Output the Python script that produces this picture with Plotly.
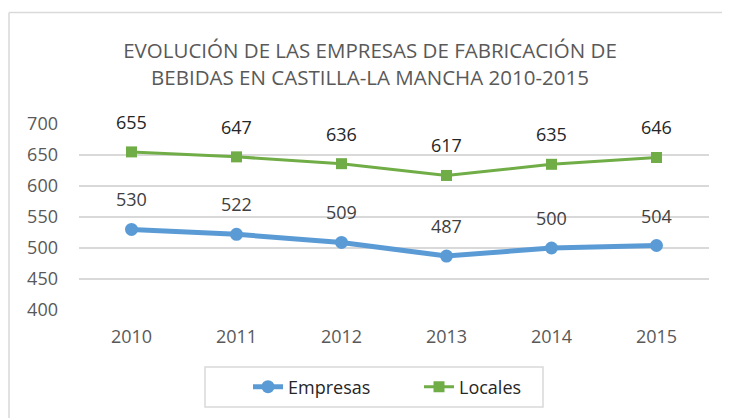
import plotly.graph_objects as go

years = ["2010", "2011", "2012", "2013", "2014", "2015"]
empresas = [530, 522, 509, 487, 500, 504]
locales = [655, 647, 636, 617, 635, 646]
y_ticks = [400, 450, 500, 550, 600, 650, 700]

FONT = "Open Sans"
GRAY = "#595959"
BLUE = "#5B9BD5"
GREEN = "#70AD47"

# page body has an 8px margin; figure is laid out in its own pixel coords
W, H = 722, 410
L, R, T, B = 71, 21, 116, 108
PW, PH = W - L - R, H - T - B


def px_x(x):
    return (x - L) / PW


def px_y(y):
    return (H - B - y) / PH


fig = go.Figure()
fig.add_trace(go.Scatter(
    x=years, y=empresas, name="Empresas", mode="lines+markers",
    line=dict(color=BLUE, width=5), marker=dict(symbol="circle", size=13, color=BLUE),
))
fig.add_trace(go.Scatter(
    x=years, y=locales, name="Locales", mode="lines+markers",
    line=dict(color=GREEN, width=3), marker=dict(symbol="square", size=11, color=GREEN),
))

for i, v in enumerate(empresas):
    fig.add_annotation(x=i, y=v, xref="x", yref="y", text=str(v), showarrow=False, yshift=30,
                       font=dict(family=FONT, size=18, color="#404040"))
for i, v in enumerate(locales):
    fig.add_annotation(x=i, y=v, xref="x", yref="y", text=str(v), showarrow=False, yshift=30,
                       font=dict(family=FONT, size=18, color="#262626"))

# outer chart border: only top and left edges are visible on the page
border = dict(color="#D9D9D9", width=1.5)
fig.add_shape(type="line", xref="paper", yref="paper",
              x0=px_x(1), x1=px_x(W), y0=px_y(4.5), y1=px_y(4.5), line=border, layer="below")
fig.add_shape(type="line", xref="paper", yref="paper",
              x0=px_x(1), x1=px_x(1), y0=px_y(4.5), y1=px_y(H), line=border, layer="below")
# legend box
fig.add_shape(type="rect", xref="paper", yref="paper",
              x0=px_x(197), x1=px_x(535), y0=px_y(399), y1=px_y(359),
              line=border, layer="below")

fig.update_layout(
    width=W, height=H,
    margin=dict(l=L, r=R, t=T, b=B),
    paper_bgcolor="white", plot_bgcolor="white",
    font=dict(family=FONT, color=GRAY),
    title=dict(text="EVOLUCIÓN DE LAS EMPRESAS DE FABRICACIÓN DE<br>BEBIDAS EN CASTILLA-LA MANCHA 2010-2015",
               x=362 / W, xanchor="center", y=1 - 50 / H, yanchor="middle",
               font=dict(family=FONT, size=20.5, color=GRAY)),
    xaxis=dict(type="category", range=[-0.5, 5.5], showgrid=False, showline=False, ticks="",
               tickfont=dict(size=18, color=GRAY), ticklabelstandoff=14),
    yaxis=dict(range=[400, 700], tickvals=y_ticks, showgrid=True, gridcolor="#D9D9D9",
               gridwidth=1.5, zeroline=False, showline=False, ticks="",
               tickfont=dict(size=18, color=GRAY), ticklabelstandoff=20),
    legend=dict(orientation="h", x=px_x(240), xanchor="left",
                y=px_y(379), yanchor="middle", bgcolor="rgba(0,0,0,0)",
                font=dict(size=18, color="#262626"), entrywidth=126, entrywidthmode="pixels"),
    showlegend=True,
)

fig.write_html("out.html")
